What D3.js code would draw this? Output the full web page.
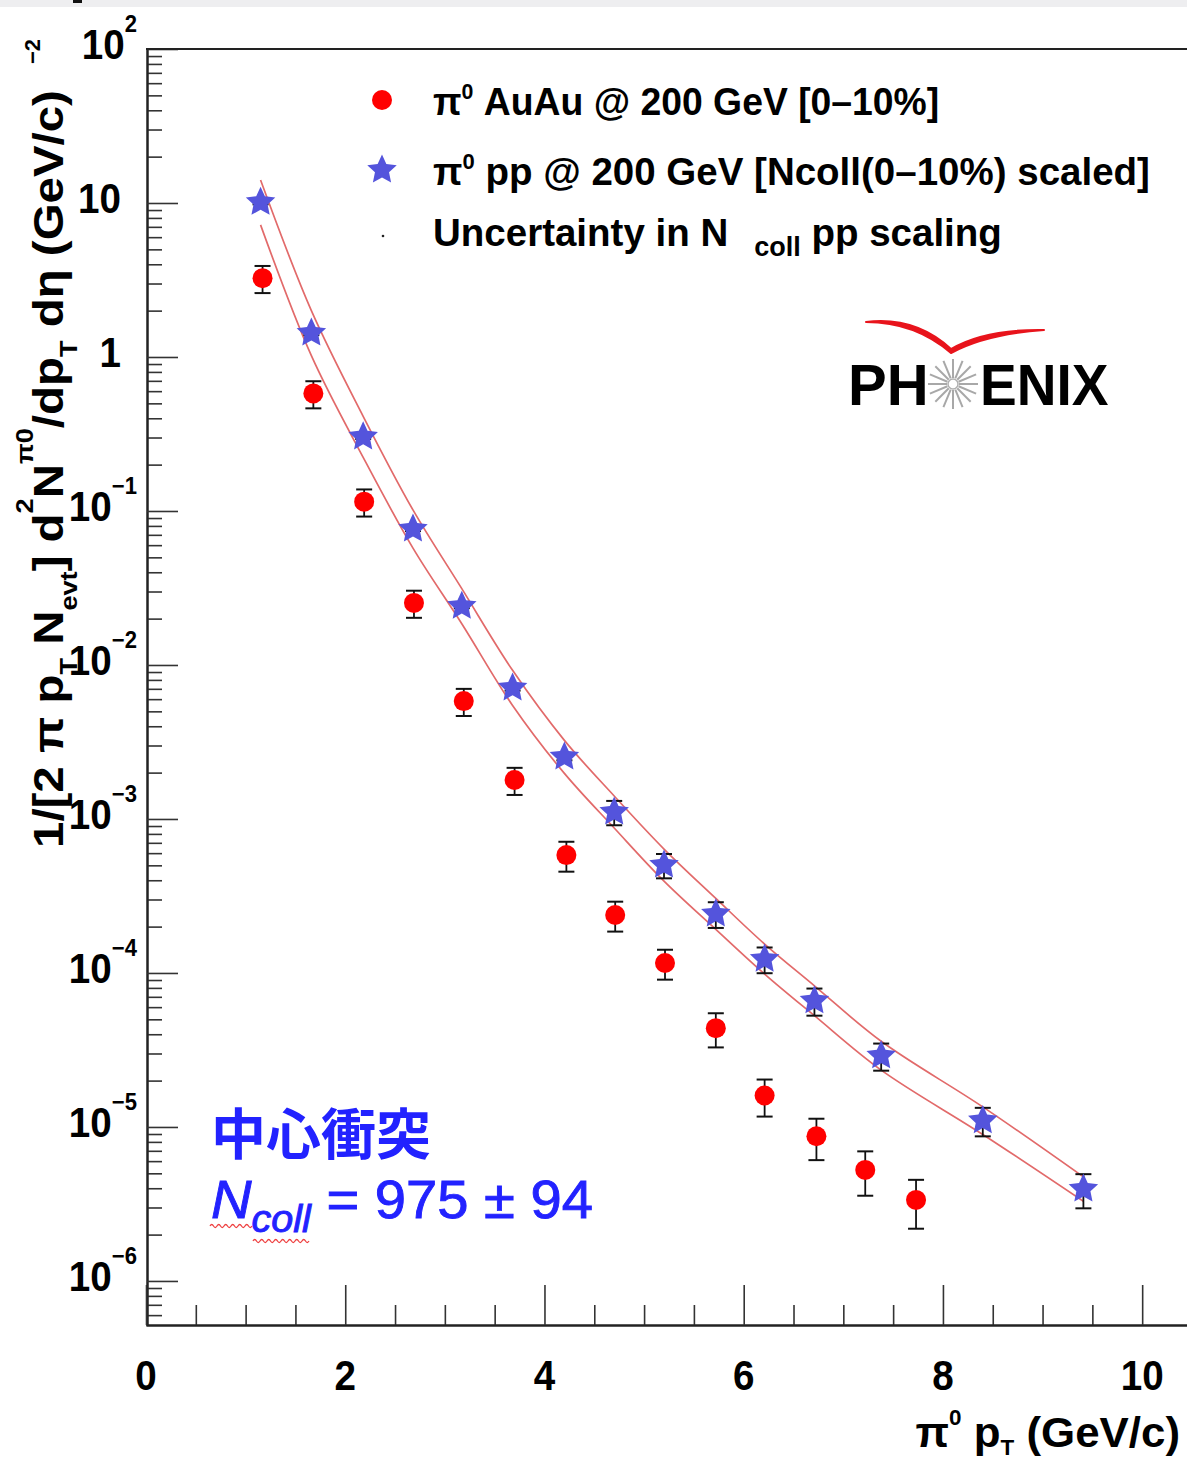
<!DOCTYPE html>
<html>
<head>
<meta charset="utf-8">
<script src="https://cdn.jsdelivr.net/npm/d3@7"></script>
<style>
    body { margin: 0; background: #fff; }
    svg { display: block; }
</style>
</head>
<body>
<div id="chart"></div>
<script>
// pi0 AuAu 200 GeV, 0-10% central
const ptAuAu = [1.17, 1.68, 2.19, 2.69, 3.19, 3.70, 4.22, 4.71, 5.21, 5.72, 6.21, 6.73, 7.22, 7.73];
const yieldAuAu = [3.25, 0.58, 0.115, 0.0253, 0.00583, 0.00179, 0.000583, 0.000238, 0.000116, 4.38e-5, 1.6e-5, 8.7e-6, 5.26e-6, 3.36e-6];
const errAuAu = [0.2, 0.2, 0.2, 0.2, 0.2, 0.2, 0.22, 0.22, 0.22, 0.25, 0.27, 0.3, 0.32, 0.35];

// pi0 pp 200 GeV, Ncoll scaled
const ptPP = [1.15, 1.66, 2.18, 2.68, 3.17, 3.68, 4.20, 4.70, 5.20, 5.72, 6.21, 6.71, 7.38, 8.40, 9.41];
const yieldPP = [10.1, 1.43, 0.303, 0.0764, 0.0241, 0.0071, 0.00253, 0.00111, 0.000502, 0.000242, 0.000123, 6.6e-5, 2.9e-5, 1.1e-5, 3.95e-6];
const errPP = [0.03, 0.03, 0.03, 0.03, 0.03, 0.04, 0.05, 0.18, 0.18, 0.19, 0.19, 0.2, 0.2, 0.21, 0.25];

// Ncoll scaling uncertainty band
const bandPt = [1.15, 1.66, 2.18, 2.68, 3.17, 3.68, 4.20, 4.70, 5.20, 5.72, 6.21, 6.71, 7.38, 8.40, 9.41];
const bandHi = [14.1, 2.0, 0.412, 0.1016, 0.0313, 0.00923, 0.00324, 0.00141, 0.000638, 0.000305, 0.000154, 8.25e-5, 3.6e-5, 1.35e-5, 4.74e-6];
const bandLo = [7.21, 1.02, 0.223, 0.0574, 0.01854, 0.00546, 0.001977, 0.000874, 0.000395, 0.000192, 9.84e-5, 5.28e-5, 2.34e-5, 8.94e-6, 3.29e-6];

const xTickValues = [0, 2, 4, 6, 8, 10];
const yDecades = [2, 1, 0, -1, -2, -3, -4, -5, -6];
const yTickBase = ["10", "10", "1", "10", "10", "10", "10", "10", "10"];
const yTickExp = ["2", "", "", "\u22121", "\u22122", "\u22123", "\u22124", "\u22125", "\u22126"];

const legendAuAu = [["\u03c0", 0], ["0", 1], [" AuAu @ 200 GeV [0\u201310%]", 0]];
const legendPP = [["\u03c0", 0], ["0", 1], [" pp @ 200 GeV [Ncoll(0\u201310%) scaled]", 0]];
const legendBand = [["Uncertainty in N", 0], ["coll", -1, 26], [" pp scaling", 0]];

const width = 1187;
const height = 1463;
const FONT = "'Liberation Sans', Arial, Helvetica, sans-serif";

const svg = d3.select("#chart")
    .append("svg")
    .attr("width", width)
    .attr("height", height);

svg.append("rect").attr("width", width).attr("height", height).attr("fill", "#fff");
// grey strip at the very top of the screenshot
svg.append("rect").attr("x", 0).attr("y", 0).attr("width", width).attr("height", 7).attr("fill", "#eeeef0");
svg.append("rect").attr("x", 73).attr("y", 0).attr("width", 9).attr("height", 3).attr("fill", "#111");

const x = d3.scaleLinear().domain([0, 10.45]).range([146, 1187]);
const y = d3.scaleLog().domain([Math.pow(10, -6.286), 100]).range([1325, 49]);

// helper: text with sub/superscripts, segs = [text, level, dx]
function addText(parent, px, py, segs, o) {
    const t = parent.append("text")
        .attr("transform", o.transform || `translate(${px},${py}) scale(${o.sx || 1},1)`)
        .attr("text-anchor", o.anchor || "start")
        .attr("font-family", o.family || FONT)
        .attr("font-weight", o.weight || "bold")
        .attr("font-style", o.style || "normal")
        .attr("fill", o.fill || "#000")
        .attr("xml:space", "preserve");
    let cur = 0;
    segs.forEach(([s, lvl, dx]) => {
        const target = lvl > 0 ? o.supDy : lvl < 0 ? o.subDy : 0;
        const ts = t.append("tspan")
            .attr("dy", target - cur)
            .attr("font-size", lvl !== 0 ? o.small : o.size)
            .text(s);
        if (dx) ts.attr("dx", dx);
        cur = target;
    });
    return t;
}

// ---- axes ----
const minorY = [];
for (let d = -7; d <= 1; d++) {
    for (let k = 2; k <= 9; k++) {
        const v = k * Math.pow(10, d);
        if (v > y.domain()[0] && v < 100) minorY.push(v);
    }
}
const minorX = d3.range(0.5, 10.3, 0.5).filter(v => v % 2 !== 0);

const gYminor = svg.append("g").attr("transform", "translate(147,0)")
    .call(d3.axisLeft(y).tickValues(minorY).tickSizeInner(-15).tickSizeOuter(0).tickFormat(""));
const gY = svg.append("g").attr("transform", "translate(147,0)")
    .call(d3.axisLeft(y).tickValues(yDecades.map(d => Math.pow(10, d))).tickSizeInner(-31).tickSizeOuter(0).tickFormat(""));
const gXminor = svg.append("g").attr("transform", "translate(0,1325)")
    .call(d3.axisBottom(x).tickValues(minorX).tickSizeInner(-20).tickSizeOuter(0).tickFormat(""));
const gX = svg.append("g").attr("transform", "translate(0,1325)")
    .call(d3.axisBottom(x).tickValues(xTickValues).tickSizeInner(-40).tickSizeOuter(0).tickFormat(""));

[gYminor, gY, gXminor, gX].forEach(g => {
    g.selectAll("path.domain").attr("stroke", "#222").attr("stroke-width", 2);
    g.selectAll(".tick line").attr("stroke", "#333").attr("stroke-width", 1.6);
});

// top frame line
svg.append("line")
    .attr("x1", 146).attr("x2", width)
    .attr("y1", y(100)).attr("y2", y(100))
    .attr("stroke", "#222").attr("stroke-width", 2);

// y tick labels
yDecades.forEach((d, i) => {
    const ty = y(Math.pow(10, d));
    if (yTickExp[i] === "") {
        addText(svg, 121, ty + 10, [[yTickBase[i], 0]],
            { size: 42, small: 24, supDy: -28, subDy: 10, anchor: "end", sx: 0.92 });
    } else {
        addText(svg, 137, ty + 10, [[yTickBase[i], 0], [yTickExp[i], 1]],
            { size: 42, small: 24, supDy: -27, subDy: 10, anchor: "end", sx: 0.92 });
    }
});

// x tick labels
xTickValues.forEach(v => {
    addText(svg, x(v), 1390, [[String(v), 0]], { size: 42, small: 24, supDy: 0, subDy: 0, anchor: "middle", sx: 0.92 });
});

// x axis title
addText(svg, 1180, 1447, [["\u03c0", 0], ["0", 1], [" p", 0], ["T", -1], [" (GeV/c)", 0]],
    { size: 43, small: 22, supDy: -22, subDy: 8, anchor: "end", sx: 1.02 });

// y axis title (rotated)
addText(svg, 0, 0, [
    ["1/[2 \u03c0 p", 0], ["T", -1], [" N", 0], ["evt", -1], ["] d", 0], ["2", 1], ["N", 0],
    ["\u03c00", 1], ["/dp", 0], ["T", -1], [" d\u03b7 (GeV/c)", 0]
], { transform: "translate(63,848) rotate(-90) scale(1.13,1)", size: 42, small: 24, supDy: -30, subDy: 14 });
addText(svg, 0, 0, [["\u22122", 0]], { transform: "translate(40,64) rotate(-90)", size: 22, small: 22, supDy: 0, subDy: 0 });

// ---- data ----
const plot = svg.append("g");

const bandLine = d3.line()
    .x((d, i) => x(bandPt[i]))
    .y(d => y(d))
    .curve(d3.curveCatmullRom);

[bandHi, bandLo].forEach(arr => {
    plot.append("path")
        .attr("d", bandLine(arr))
        .attr("fill", "none")
        .attr("stroke", "#e26a6a")
        .attr("stroke-width", 1.7);
});

function starPath(R, r) {
    const pts = d3.range(10).map(i => {
        const a = -Math.PI / 2 + i * Math.PI / 5;
        const rr = i % 2 === 0 ? R : r;
        return [rr * Math.cos(a), rr * Math.sin(a)];
    });
    return "M" + pts.map(p => p.join(",")).join("L") + "Z";
}
const STAR = starPath(15.5, 7.4);
const CAP = 8;

function drawSeries(pts, vals, errs, markerFn) {
    const g = plot.append("g");
    const data = pts.map((p, i) => ({ p: p, v: vals[i], e: errs[i] }));
    g.selectAll("line.bar").data(data).enter().append("line")
        .attr("x1", d => x(d.p)).attr("x2", d => x(d.p))
        .attr("y1", d => y(d.v * (1 + d.e))).attr("y2", d => y(d.v * (1 - d.e)))
        .attr("stroke", "#111").attr("stroke-width", 1.8);
    ["hi", "lo"].forEach(side => {
        g.selectAll("line.cap" + side).data(data).enter().append("line")
            .attr("x1", d => x(d.p) - CAP).attr("x2", d => x(d.p) + CAP)
            .attr("y1", d => y(d.v * (side === "hi" ? 1 + d.e : 1 - d.e)))
            .attr("y2", d => y(d.v * (side === "hi" ? 1 + d.e : 1 - d.e)))
            .attr("stroke", "#111").attr("stroke-width", 2);
    });
    markerFn(g.selectAll("g.m").data(data).enter().append("g")
        .attr("transform", d => `translate(${x(d.p)},${y(d.v)})`));
}

drawSeries(ptPP, yieldPP, errPP, sel => sel.append("path").attr("d", STAR).attr("fill", "#5454dc"));
drawSeries(ptAuAu, yieldAuAu, errAuAu, sel => sel.append("circle").attr("r", 10).attr("fill", "#ff0000"));

// ---- legend ----
const legend = svg.append("g");
legend.append("circle").attr("cx", 382).attr("cy", 100).attr("r", 10).attr("fill", "#ff0000");
legend.append("path").attr("d", STAR).attr("transform", "translate(382,170)").attr("fill", "#5454dc");
legend.append("circle").attr("cx", 383).attr("cy", 236).attr("r", 1.3).attr("fill", "#222");

addText(legend, 433, 115, legendAuAu, { size: 38.5, small: 22, supDy: -16, subDy: 10, sx: 0.97 });
addText(legend, 433, 185, legendPP, { size: 38.5, small: 22, supDy: -16, subDy: 10 });
addText(legend, 433, 246, legendBand, { size: 38.5, small: 27, supDy: -16, subDy: 10 });

// ---- PHENIX logo ----
const logo = svg.append("g");
addText(logo, 848, 405, [["PH", 0]], { size: 58, small: 20, supDy: 0, subDy: 0 });
addText(logo, 980, 405, [["ENIX", 0]], { size: 58, small: 20, supDy: 0, subDy: 0, sx: 0.95 });
const burst = logo.append("g").attr("transform", "translate(953,384)");
d3.range(16).forEach(i => {
    const a = i * Math.PI / 8;
    burst.append("line")
        .attr("x1", 6 * Math.cos(a)).attr("y1", 6 * Math.sin(a))
        .attr("x2", 25 * Math.cos(a)).attr("y2", 25 * Math.sin(a))
        .attr("stroke", "#a8a8a8").attr("stroke-width", 2);
});
burst.append("circle").attr("r", 5).attr("fill", "#fff").attr("stroke", "#b0b0b0").attr("stroke-width", 1.5);
logo.append("path")
    .attr("d", "M866,322 Q915,316 951,349 Q985,329 1044,330 Q986,334 951,353 Q915,322 866,322 Z")
    .attr("fill", "#e8141c").attr("stroke", "#e8141c").attr("stroke-width", 2).attr("stroke-linejoin", "round");

// ---- centrality annotation ----
const note = svg.append("g");
note.append("text")
    .attr("x", 211).attr("y", 1154)
    .attr("font-family", "'Noto Sans CJK JP', 'Noto Sans CJK SC', sans-serif")
    .attr("font-weight", "bold")
    .attr("font-size", 55)
    .attr("fill", "#2222ff")
    .text("中心衝突");
addText(note, 211, 1218, [["N", 0], ["coll", -1], [" = 975 \u00b1 94", 0]],
    { size: 54, small: 38, supDy: 0, subDy: 14, weight: "normal", fill: "#2222ff", sx: 1.04 })
    .attr("stroke", "#2222ff").attr("stroke-width", 0.9)
    .selectAll("tspan").filter((d, i) => i < 2).attr("font-style", "italic");

function wavy(x0, x1, yy) {
    let s = `M${x0},${yy}`;
    for (let xx = x0; xx < x1; xx += 7) {
        s += ` Q${xx + 1.75},${yy - 3} ${xx + 3.5},${yy} Q${xx + 5.25},${yy + 3} ${xx + 7},${yy}`;
    }
    return s;
}
note.append("path").attr("d", wavy(210, 248, 1226)).attr("fill", "none").attr("stroke", "#ee4040").attr("stroke-width", 1.3);
note.append("path").attr("d", wavy(253, 307, 1241)).attr("fill", "none").attr("stroke", "#ee4040").attr("stroke-width", 1.3);
</script>
</body>
</html>
